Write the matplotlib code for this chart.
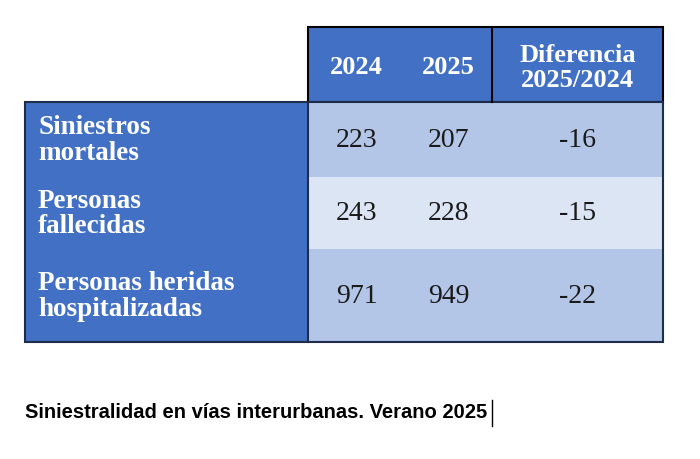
import matplotlib.pyplot as plt
from matplotlib.patches import Rectangle

headers = ['2024', '2025', 'Diferencia\n2025/2024']
row_labels = ['Siniestros\nmortales', 'Personas\nfallecidas', 'Personas heridas\nhospitalizadas']
v2024 = [223, 243, 971]
v2025 = [207, 228, 949]
diff = [-16, -15, -22]
caption = 'Siniestralidad en vías interurbanas. Verano 2025'

BLUE = '#4170C4'
ROW_COLORS = ['#B4C6E7', '#DCE5F4', '#B4C6E7']


def main():
    fig = plt.figure(figsize=(7, 4.6), dpi=100)
    ax = fig.add_axes([0, 0, 1, 1])
    ax.set_xlim(0, 700)
    ax.set_ylim(460, 0)
    ax.axis('off')

    serif = 'Liberation Serif'
    col_x = [308, 405, 492, 663]
    row_y = [103, 178, 250, 343]

    # header block
    ax.add_patch(Rectangle((308, 28), 355, 75, fc=BLUE, ec='black', lw=1.5))
    ax.plot([492, 492], [28, 103], c='black', lw=1.5)
    for i, h in enumerate(headers):
        cx = (col_x[i] + col_x[i + 1]) / 2
        ax.text(cx, 68, h, ha='center', va='center', color='white', fontsize=19,
                fontweight='bold', family=serif, linespacing=1.1)

    # row labels block
    ax.add_patch(Rectangle((25, 103), 283, 240, fc=BLUE, ec='none'))
    for r, lab in enumerate(row_labels):
        y0, y1 = row_y[r], row_y[r + 1]
        ax.add_patch(Rectangle((308, y0), 355, y1 - y0, fc=ROW_COLORS[r], ec='none'))
        ax.text(38, (y0 + y1) / 2, lab, ha='left', va='center', color='white', fontsize=19.5,
                fontweight='bold', family=serif, linespacing=1.05)
        vals = [v2024[r], v2025[r], diff[r]]
        for c, v in enumerate(vals):
            cx = (col_x[c] + col_x[c + 1]) / 2
            ax.text(cx, (y0 + y1) / 2, str(v), ha='center', va='center', color='#1a1a1a',
                    fontsize=20, family=serif)
    ax.add_patch(Rectangle((25, 103), 638, 240, fc='none', ec='#1f2d4a', lw=1.5))
    ax.plot([308, 308], [103, 343], c='#1f2d4a', lw=1.5)

    ax.text(25, 413, caption, ha='left', va='center', fontsize=14.5, fontweight='bold',
            family=['Liberation Sans Narrow', 'Liberation Sans'], color='black')
    ax.plot([492, 492], [401, 427], c='black', lw=1)

    fig.savefig('out.png', dpi=100)


main()
